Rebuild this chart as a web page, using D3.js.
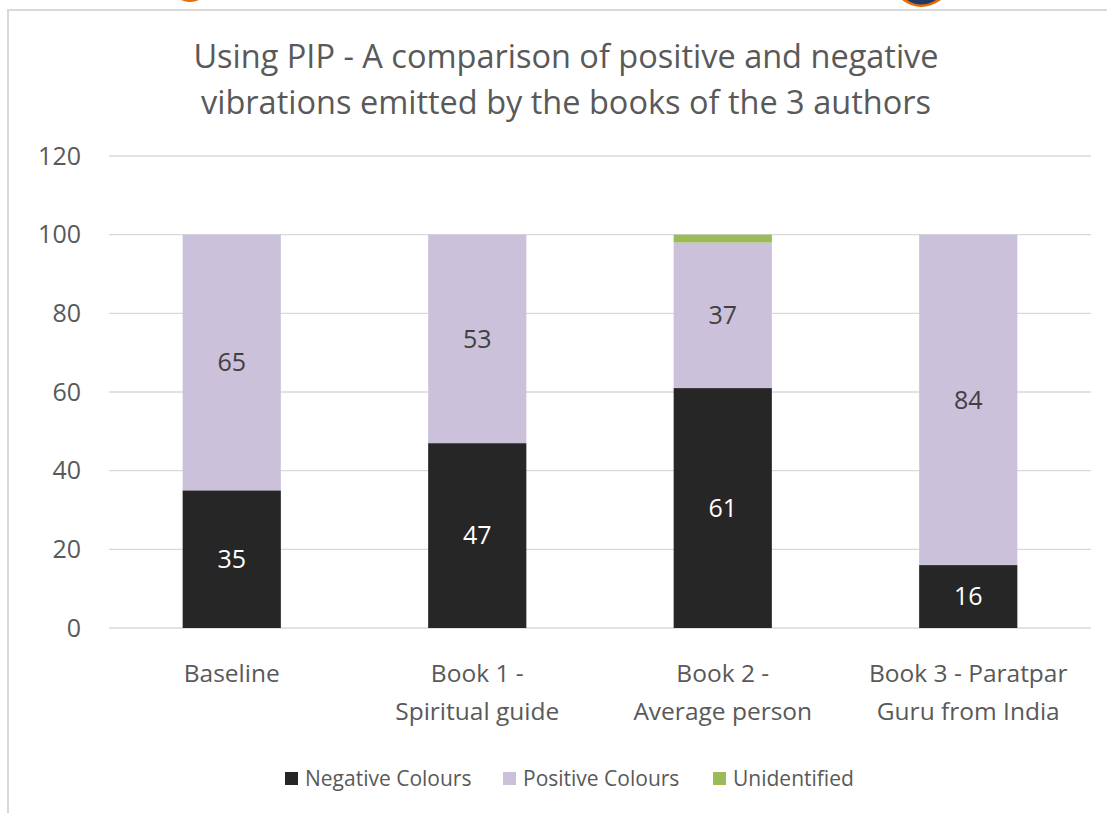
<!DOCTYPE html>
<html>
<head>
<meta charset="utf-8">
<script src="https://cdn.jsdelivr.net/npm/d3@7"></script>
<style>
  body { margin: 0; background: #fff; }
  text { font-family: "Open Sans", "Liberation Sans", sans-serif; fill: #595959; }
</style>
</head>
<body>
<div id="chart"></div>
<script>
// data
const categories = ["Baseline", "Book 1 - Spiritual guide", "Book 2 - Average person", "Book 3 - Paratpar Guru from India"]
const catLines = [["Baseline"], ["Book 1 -", "Spiritual guide"], ["Book 2 -", "Average person"], ["Book 3 - Paratpar", "Guru from India"]]
const seriesNames = ["Negative Colours", "Positive Colours", "Unidentified"]
const negative = [35, 47, 61, 16]
const positive = [65, 53, 37, 84]
const unidentified = [0, 0, 2, 0]
const yTicks = [0, 20, 40, 60, 80, 100, 120]
const colors = ["#262626", "#cbc1da", "#9bbb59"]

const W = 1107, H = 813
const svg = d3.select("#chart").append("svg")
	.attr("width", W).attr("height", H)

// chart frame
svg.append("rect")
	.attr("x", 8).attr("y", 10)
	.attr("width", W + 20).attr("height", H + 20)
	.attr("fill", "#fff").attr("stroke", "#d9d9d9").attr("stroke-width", 2)

// bits of the page above the chart
svg.append("path").attr("d", "M181,0 Q190,4 199,0 Z").attr("fill", "#e36c09")
svg.append("path").attr("d", "M902,0 Q921,14 941,0 Z").attr("fill", "#e36c09")
svg.append("path").attr("d", "M907,0 Q921,9 936,0 Z").attr("fill", "#1f3864")

// title
svg.append("text")
	.attr("x", 566).attr("y", 68)
	.attr("text-anchor", "middle")
	.style("font-size", "32.5px")
	.selectAll("tspan")
	.data(["Using PIP - A comparison of positive and negative", "vibrations emitted by the books of the 3 authors"])
	.join("tspan")
		.attr("x", 566)
		.attr("dy", (d, i) => i ? 46 : 0)
		.text(d => d)

const plotLeft = 109, plotRight = 1091, plotTop = 156, plotBottom = 628

const x = d3.scaleBand()
	.domain(categories)
	.range([plotLeft, plotRight])
	.paddingInner(0.6)
	.paddingOuter(0.3)

const y = d3.scaleLinear()
	.domain([0, 120])
	.range([plotBottom, plotTop])

// gridlines
svg.append("g")
	.selectAll("line")
	.data(yTicks)
	.join("line")
		.attr("x1", plotLeft).attr("x2", plotRight)
		.attr("y1", d => y(d)).attr("y2", d => y(d))
		.attr("stroke", "#d9d9d9").attr("stroke-width", 1.3)

// y axis labels
const yAxis = svg.append("g")
	.attr("transform", `translate(${plotLeft},0)`)
	.call(d3.axisLeft(y).tickValues(yTicks).tickSize(0).tickPadding(28))
yAxis.select(".domain").remove()
yAxis.selectAll("text").style("font-size", "25px").attr("fill", "#595959")

// stack
const table = categories.map((c, i) => ({
	cat: c,
	"Negative Colours": negative[i],
	"Positive Colours": positive[i],
	"Unidentified": unidentified[i]
}))
const stacked = d3.stack().keys(seriesNames)(table)

const layers = svg.append("g")
	.selectAll("g")
	.data(stacked)
	.join("g")
		.attr("fill", (d, i) => colors[i])

layers.selectAll("rect")
	.data(d => d)
	.join("rect")
		.attr("x", d => x(d.data.cat))
		.attr("y", d => y(d[1]))
		.attr("width", x.bandwidth())
		.attr("height", d => y(d[0]) - y(d[1]))

// data labels for the first two series
stacked.slice(0, 2).forEach((s, si) => {
	svg.append("g")
		.selectAll("text")
		.data(s)
		.join("text")
			.attr("x", d => x(d.data.cat) + x.bandwidth() / 2)
			.attr("y", d => (y(d[0]) + y(d[1])) / 2)
			.attr("dy", "0.35em")
			.attr("text-anchor", "middle")
			.style("font-size", "25px")
			.style("fill", si === 0 ? "#ffffff" : "#404040")
			.text(d => d[1] - d[0])
})

// x labels
svg.append("g")
	.selectAll("text")
	.data(categories)
	.join("text")
		.attr("x", d => x(d) + x.bandwidth() / 2)
		.attr("y", 682)
		.attr("text-anchor", "middle")
		.style("font-size", "24.5px")
		.each(function(d, i) {
			d3.select(this).selectAll("tspan")
				.data(catLines[i])
				.join("tspan")
					.attr("x", x(d) + x.bandwidth() / 2)
					.attr("dy", (t, j) => j ? 38 : 0)
					.text(t => t)
		})

// legend
const legendX = [285, 503, 713]
const legend = svg.append("g")
	.selectAll("g")
	.data(seriesNames)
	.join("g")
		.attr("transform", (d, i) => `translate(${legendX[i]},779)`)
legend.append("rect")
	.attr("x", 0).attr("y", -7)
	.attr("width", 13).attr("height", 13)
	.attr("fill", (d, i) => colors[i])
legend.append("text")
	.attr("x", 20).attr("dy", "0.35em")
	.style("font-size", "21px")
	.text(d => d)
</script>
</body>
</html>
